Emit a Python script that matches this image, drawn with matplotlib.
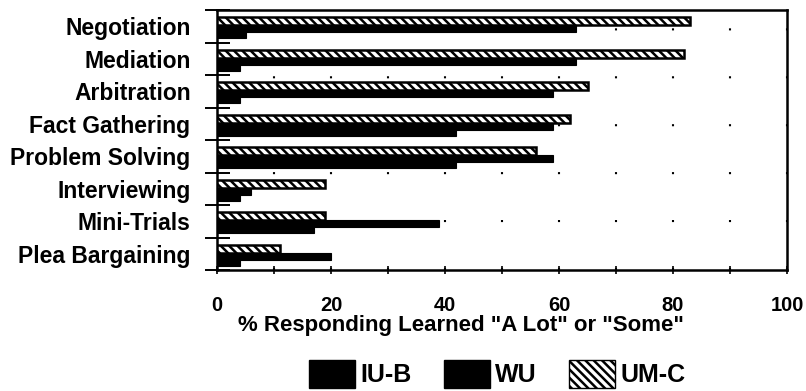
import matplotlib
matplotlib.use("Agg")
import matplotlib.pyplot as plt
from matplotlib.patches import Patch
import numpy as np

categories = ["Negotiation", "Mediation", "Arbitration", "Fact Gathering",
              "Problem Solving", "Interviewing", "Mini-Trials", "Plea Bargaining"]
iub = [5, 4, 4, 42, 42, 4, 17, 4]
wu = [63, 63, 59, 59, 59, 6, 39, 20]
umc = [83, 82, 65, 62, 56, 19, 19, 11]
series_names = ["IU-B", "WU", "UM-C"]
xticks = [0, 20, 40, 60, 80, 100]
xlabel = '% Responding Learned "A Lot" or "Some"'

plt.rcParams['font.family'] = ['Liberation Sans', 'DejaVu Sans']
plt.rcParams['hatch.linewidth'] = 1.8

W, H = 806, 391
fig = plt.figure(figsize=(W / 100, H / 100), dpi=100)
ax = fig.add_axes([217 / W, 1 - 270 / H, (787 - 217) / W, (270 - 10) / H])

n = len(categories)
centers = np.arange(n)[::-1] + 0.5

hatch = '\\\\\\\\'
ax.barh(centers - 0.28, iub, height=0.18, color='black', edgecolor='black',
        linewidth=0.8, zorder=3)
ax.barh(centers - 0.08, wu, height=0.22, color='black', edgecolor='black',
        linewidth=0.8, zorder=3)
ax.barh(centers + 0.155, umc, height=0.25, color='white', edgecolor='black',
        hatch=hatch, linewidth=1.8, zorder=4)

ax.set_xlim(0, 100)
ax.set_ylim(0, n)

for s in ax.spines.values():
    s.set_linewidth(1.8)

# y axis
ax.set_yticks(centers)
ax.set_yticklabels(categories, fontsize=16.5, fontweight='bold')
ax.tick_params(axis='y', which='major', length=0, pad=19)
ax.set_yticks(np.arange(0, n + 1), minor=True)
ax.tick_params(axis='y', which='minor', direction='inout', length=18, width=1.4)

# x axis
ax.set_xticks(xticks)
ax.set_xticklabels([str(v) for v in xticks], fontsize=14.5, fontweight='bold')
ax.set_xticks(np.arange(10, 100, 20), minor=True)
ax.tick_params(axis='x', which='both', direction='inout', length=6, width=1.2, pad=16)

ax.xaxis.grid(True, which='both', color='black', linewidth=1.5,
              linestyle=(0, (1, 22)), zorder=0)
ax.set_axisbelow(True)

fig.text(461 / W, 1 - 326 / H, xlabel, ha='center', va='center',
         fontsize=16, fontweight='bold')

handles = [Patch(facecolor='black', edgecolor='black'),
           Patch(facecolor='black', edgecolor='black'),
           Patch(facecolor='white', edgecolor='black', hatch=hatch, linewidth=1.0)]
leg = fig.legend(handles, series_names, loc='center', ncol=3,
                 bbox_to_anchor=(497 / W, 1 - 374 / H), frameon=False,
                 prop={'size': 18, 'weight': 'bold'},
                 handlelength=1.85, handleheight=1.3, handletextpad=0.2,
                 columnspacing=1.3, borderpad=0, borderaxespad=0)

fig.savefig("out.png", dpi=100)
